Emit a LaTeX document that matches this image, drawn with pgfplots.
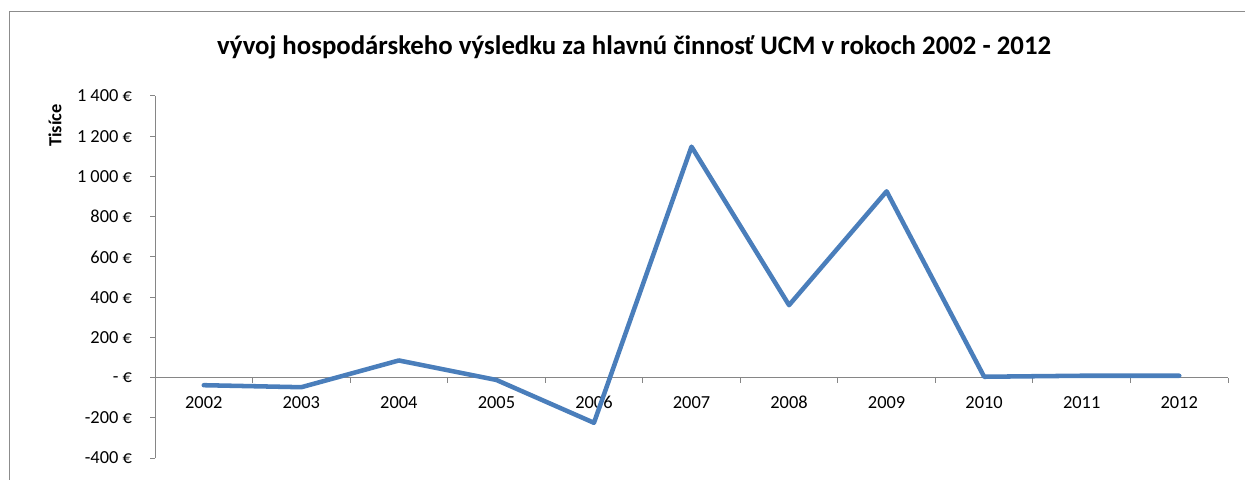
\documentclass[border=0pt]{standalone}
\usepackage{fontspec}
\setmainfont{Carlito}
\usepackage{pgfplots}
\pgfplotsset{compat=1.18}
\definecolor{serie}{HTML}{4A7EBB}
\definecolor{axgray}{HTML}{868686}
\definecolor{framegray}{HTML}{8C8C8C}
\begin{document}
\begin{tikzpicture}[x=1pt,y=1pt]
\path[use as bounding box] (0,0) rectangle (933.75,359.25);
% chart frame (partly cut off like the reference)
\draw[framegray,line width=0.9pt] (6.9,-2) -- (6.9,350.9) -- (936,350.9);
% title
\node[anchor=base,font=\fontsize{20.1}{22}\selectfont\bfseries] at (475.5,318) {vývoj hospodárskeho výsledku za hlavnú činnosť UCM v rokoch 2002 - 2012};
% y label
\node[rotate=90,font=\fontsize{13.8}{16}\selectfont\bfseries] at (41.25,265) {Tisíce};
\begin{axis}[
  at={(116.25pt,15.75pt)}, anchor=south west,
  scale only axis, width=804.75pt, height=271.5pt,
  xmin=-0.5, xmax=10.5, ymin=-400, ymax=1400,
  axis x line=middle, axis y line=left,
  axis line style={-, axgray, line width=0.75pt},
  xtick={0,...,10},
  xticklabels={2002,2003,2004,2005,2006,2007,2008,2009,2010,2011,2012},
  minor xtick={-0.5,0.5,...,10.5},
  ytick={-400,-200,...,1400},
  yticklabels={-400 €,-200 €,- €,200 €,400 €,600 €,800 €,1 000 €,1 200 €,1 400 €},
  tick align=outside,
  major tick length=3.75pt, minor tick length=3.75pt,
  x tick style={draw=none},
  minor x tick style={draw=axgray, line width=0.75pt},
  y tick style={draw=axgray, line width=0.75pt},
  xticklabel style={font=\fontsize{13.8}{16}\selectfont, anchor=base, yshift=-19.3pt},
  yticklabel style={font=\fontsize{13.8}{16}\selectfont, xshift=-10pt},
  clip=false,
]
\addplot[serie, line width=3.4pt, line join=round, line cap=round] coordinates {
(0,-38) (1,-48) (2,85) (3,-12) (4,-225) (5,1148) (6,360) (7,926) (8,4) (9,9) (10,9)
};
\end{axis}
\end{tikzpicture}
\end{document}
